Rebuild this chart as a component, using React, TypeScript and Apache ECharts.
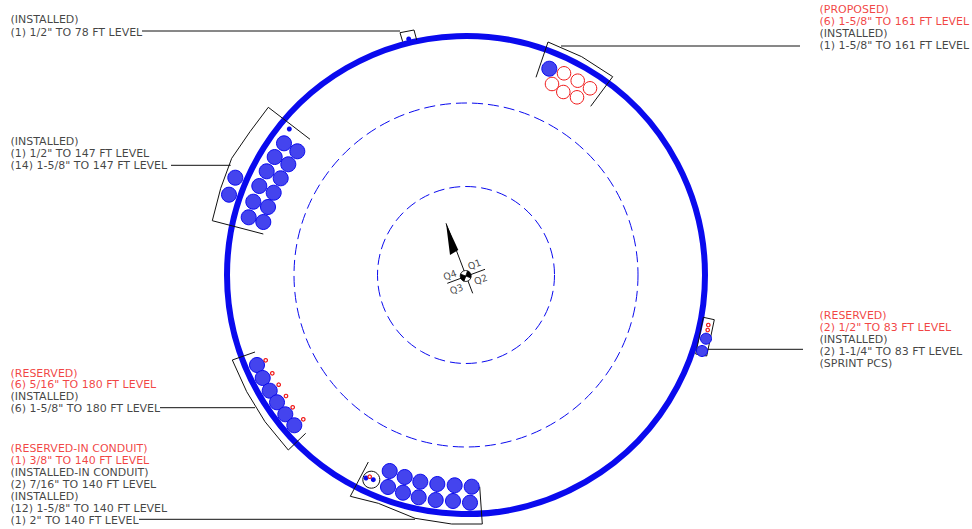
import React, { useEffect, useRef } from "react";
import * as echarts from "echarts";

const W = 972;
const H = 529;
const BLUE = "#0a0aee";
const FILL = "#4444ee";
const RED = "#f01818";
const FONT = "'DejaVu Sans', sans-serif";

const towerCenter = [466, 275];
const ringDiameters = [478];
const dashedDiameters = [344, 177];

const installedLarge = [
  [284, 143.3], [297.3, 151.3], [274.7, 157], [288.3, 164.3], [266.7, 171.3], [280.7, 178.3], [259.3, 186],
  [273.7, 192.7], [253.3, 201.7], [268, 207], [248.7, 217.3], [263.3, 222], [235.3, 177.7], [229, 194.7],
  [257, 365], [262.7, 378], [269.7, 390.7], [277, 402.3], [285.3, 414.3], [294.3, 425.3],
  [389.7, 471], [404.7, 477], [420.3, 481.7], [437.3, 484], [454.7, 485.3], [471.7, 486.7],
  [388, 487], [403, 492.7], [418.7, 497.3], [435.7, 500], [453, 501], [470, 502.7],
  [549.3, 68.7],
];
const installedMedium = [[706, 338.7], [702, 351]];
const installedSmall = [[289.3, 129], [408.7, 39], [366, 478], [373.3, 479.7]];
const proposedLarge = [[564, 73.3], [552, 84], [577.7, 80.7], [563.3, 92], [590, 88.3], [577, 97.3]];
const reservedSmall = [
  [265.7, 360.3], [272.3, 373.3], [278.7, 384.7], [286, 396], [292.7, 407.3], [303.3, 419.3],
  [708.3, 325], [707.7, 330], [369.7, 476.7],
];
const conduit = [[371.3, 479.7]];

const brackets = [
  [[310, 139.3], [268.3, 107.3], [250, 131.7], [231.7, 158.3], [220.7, 188.3], [212.3, 220.7], [263.3, 234]],
  [[255, 352], [232.3, 360], [246.7, 391.7], [265, 421.7], [288.3, 450], [305.7, 433.3]],
  [[368.3, 462], [350.3, 496.3], [378.3, 503.3], [415, 518.3], [451.7, 524], [482.3, 524], [479.7, 486.7]],
  [[536, 77.3], [548, 42], [581.7, 56.7], [612.7, 76.7], [590.7, 106.3]],
  [[703.3, 317.3], [714.3, 319.7], [706.7, 356], [695.7, 354], [703.3, 317.3]],
  [[400, 32.7], [414, 30], [416.7, 40]],
  [[400, 32.7], [402.7, 41.7]],
];
const leaders = [
  [[142, 31], [400, 31]],
  [[171, 165.3], [230.7, 165.3]],
  [[160, 407.7], [255, 407.7]],
  [[139, 519.3], [415, 519.3]],
  [[561, 46], [800, 46]],
  [[707, 349.3], [803, 349.3]],
];
const northLines = [
  [[446, 223.3], [472.7, 293.3]],
  [[447.3, 283.3], [485, 269.3]],
];
const northArrow = [[446, 223.3], [450, 255], [458.3, 250]];
const hubSlices = [1, 1, 1, 1];
const quadrants = [
  ["Q1", 474.3, 264.3],
  ["Q2", 480.7, 279.3],
  ["Q3", 456.3, 289],
  ["Q4", 450, 275],
];

type Row = [string, number, number, boolean];
const notes: Row[] = [
  ["(INSTALLED)", 10, 19, false],
  ['(1) 1/2" TO 78 FT LEVEL', 10, 32, false],
  ["(INSTALLED)", 10, 141, false],
  ['(1) 1/2" TO 147 FT LEVEL', 10, 153, false],
  ['(14) 1-5/8" TO 147 FT LEVEL', 10, 165, false],
  ["(RESERVED)", 10, 373, true],
  ['(6) 5/16" TO 180 FT LEVEL', 10, 384.7, true],
  ["(INSTALLED)", 10, 396.7, false],
  ['(6) 1-5/8" TO 180 FT LEVEL', 10, 408.3, false],
  ["(RESERVED-IN CONDUIT)", 10, 448.7, true],
  ['(1) 3/8" TO 140 FT LEVEL', 10, 460.3, true],
  ["(INSTALLED-IN CONDUIT)", 10, 472, false],
  ['(2) 7/16" TO 140 FT LEVEL', 10, 484, false],
  ["(INSTALLED)", 10, 496.7, false],
  ['(12) 1-5/8" TO 140 FT LEVEL', 10, 508.3, false],
  ['(1) 2" TO 140 FT LEVEL', 10, 520.3, false],
  ["(PROPOSED)", 819, 9, true],
  ['(6) 1-5/8" TO 161 FT LEVEL', 819, 21, true],
  ["(INSTALLED)", 819, 33, false],
  ['(1) 1-5/8" TO 161 FT LEVEL', 819, 45, false],
  ["(RESERVED)", 819, 315, true],
  ['(2) 1/2" TO 83 FT LEVEL', 819, 327, true],
  ["(INSTALLED)", 819, 339, false],
  ['(2) 1-1/4" TO 83 FT LEVEL', 819, 351, false],
  ["(SPRINT PCS)", 819, 363, false],
];

const polyline = (data: number[][], width = 1) => ({
  type: "line",
  data,
  symbol: "none",
  silent: true,
  z: 3,
  lineStyle: { color: "#111", width },
});

const dots = (data: number[][], size: number, color: string, border: string, bw: number, z = 4) => ({
  type: "scatter",
  data,
  symbol: "circle",
  symbolSize: size,
  silent: true,
  z,
  itemStyle: { color, borderColor: border, borderWidth: bw, opacity: 1 },
});

export default function App() {
  const ref = useRef<HTMLDivElement>(null);
  useEffect(() => {
    const chart = echarts.init(ref.current!, undefined, { renderer: "svg" });
    chart.setOption({
      animation: false,
      backgroundColor: "#ffffff",
      grid: { left: 0, right: 0, top: 0, bottom: 0 },
      xAxis: { type: "value", min: 0, max: W, show: false },
      yAxis: { type: "value", min: 0, max: H, inverse: true, show: false },
      series: [
        ...dashedDiameters.map((d) => ({
          type: "scatter",
          data: [towerCenter],
          symbolSize: d,
          silent: true,
          z: 1,
          itemStyle: { color: "transparent", borderColor: BLUE, borderWidth: 1, borderType: [11, 5], opacity: 1 },
        })),
        ...ringDiameters.map((d) => ({
          type: "scatter",
          data: [towerCenter],
          symbolSize: d,
          silent: true,
          z: 2,
          itemStyle: { color: "transparent", borderColor: BLUE, borderWidth: 6, opacity: 1 },
        })),
        ...brackets.map((b) => polyline(b)),
        ...leaders.map((b) => polyline(b)),
        ...northLines.map((b) => polyline(b)),
        dots(conduit, 17, "#ffffff", "#111", 1),
        dots(installedLarge, 15, FILL, BLUE, 1, 5),
        dots(installedMedium, 11, FILL, BLUE, 1, 5),
        dots(installedSmall, 5, BLUE, BLUE, 0, 5),
        dots(proposedLarge, 13.5, "transparent", RED, 1, 5),
        dots(reservedSmall, 3.5, "#ffffff", RED, 1.2, 6),
        {
          type: "custom",
          silent: true,
          z: 6,
          data: [northArrow.flat()],
          renderItem: (_: unknown, api: any) => ({
            type: "polygon",
            shape: { points: northArrow.map((p) => api.coord(p)) },
            style: { fill: "#000" },
          }),
        },
        {
          type: "pie",
          silent: true,
          z: 7,
          center: [465.7, 276],
          radius: [0, 5.5],
          startAngle: 70,
          label: { show: false },
          labelLine: { show: false },
          data: hubSlices.map((v, i) => ({
            value: v,
            itemStyle: { color: i % 2 ? "#ffffff" : "#000000", borderColor: "#000", borderWidth: 0.8 },
          })),
        },
        {
          type: "scatter",
          silent: true,
          z: 8,
          symbolSize: 1,
          itemStyle: { color: "transparent" },
          data: quadrants.map(([name, x, y]) => ({
            name,
            value: [x, y],
            label: {
              show: true,
              formatter: "{b}",
              position: "inside",
              rotate: 20,
              color: "#111",
              fontFamily: FONT,
              fontSize: 9.5,
            },
          })),
        },
        {
          type: "scatter",
          silent: true,
          z: 8,
          symbolSize: 1,
          itemStyle: { color: "transparent" },
          data: notes.map(([name, x, y, red]) => ({
            name,
            value: [x, y],
            label: {
              show: true,
              formatter: "{b}",
              position: "right",
              distance: 0,
              color: red ? "#ee1111" : "#111111",
              fontFamily: FONT,
              fontSize: 11,
            },
          })),
        },
      ],
    });
    return () => chart.dispose();
  }, []);
  return <div ref={ref} style={{ position: "absolute", left: 0, top: 0, width: W, height: H }} />;
}
